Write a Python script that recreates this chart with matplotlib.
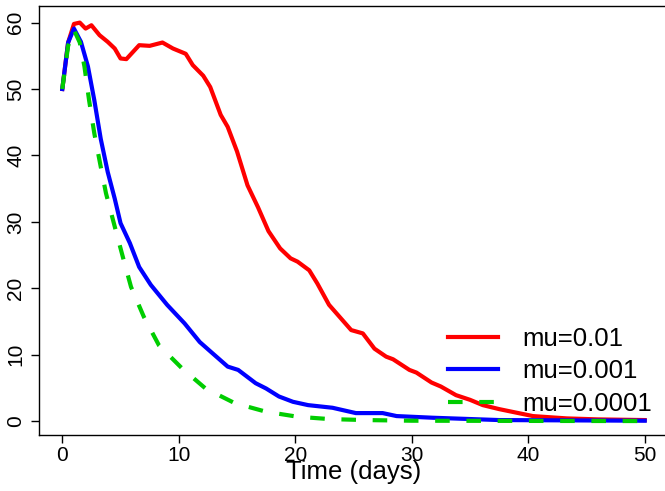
import matplotlib
matplotlib.use('Agg')
import matplotlib.pyplot as plt

# values
t_red = [0, 0.5, 1.0, 1.5, 2.0, 2.5, 3.2, 3.9, 4.5, 5.0, 5.5, 6.6, 7.5, 8.6, 9.5,
         10.6, 11.2, 12.1, 12.7, 13.6, 14.2, 15.0, 15.9, 16.8, 17.7, 18.7, 19.6,
         20.2, 21.2, 21.9, 22.9, 23.8, 24.8, 25.8, 26.8, 27.8, 28.4, 29.8, 30.4,
         31.7, 32.5, 33.8, 35.0, 36.1, 37.5, 40.4, 43.3, 46.0, 50.0]
mu_01 = [50, 57, 59.8, 60.0, 59.1, 59.6, 58.1, 57.1, 56.1, 54.6, 54.5, 56.6, 56.5,
         57.0, 56.1, 55.3, 53.6, 52.0, 50.3, 46.1, 44.3, 40.6, 35.5, 32.2, 28.6,
         26.0, 24.5, 24.0, 22.7, 20.7, 17.5, 15.7, 13.7, 13.2, 10.9, 9.7, 9.3,
         7.7, 7.3, 5.8, 5.2, 3.9, 3.2, 2.4, 1.8, 0.75, 0.4, 0.25, 0.15]

t_blue = [0, 0.5, 1.0, 1.6, 2.2, 2.75, 3.3, 3.9, 4.5, 5.0, 5.8, 6.6, 7.6, 9.0,
          10.5, 11.8, 12.9, 14.2, 15.1, 16.6, 17.5, 18.6, 19.8, 21.1, 23.2, 25.2,
          27.5, 28.7, 31.8, 37.5, 50.0]
mu_001 = [50, 57, 59.1, 57.1, 53.4, 48.3, 42.5, 37.5, 33.5, 29.8, 26.8, 23.2, 20.5,
          17.5, 14.7, 11.9, 10.2, 8.2, 7.7, 5.7, 4.9, 3.7, 2.9, 2.4, 2.0, 1.2,
          1.2, 0.75, 0.5, 0.15, 0.05]

t_green = [0, 0.5, 1.0, 1.5, 1.9, 2.3, 2.75, 3.3, 3.75, 4.5, 5.2, 5.9, 7.0, 8.3,
           10.3, 12.3, 14.8, 17.5, 20.2, 22.9, 26.0, 30.0, 40.0, 50.0]
mu_0001 = [50, 56.5, 58.9, 57.0, 53.4, 48.3, 43.3, 38.3, 34.3, 29.3, 24.7, 20.2,
           15.7, 11.4, 7.9, 4.9, 2.7, 1.4, 0.65, 0.3, 0.15, 0.05, 0.02, 0.0]

labels = ['mu=0.01', 'mu=0.001', 'mu=0.0001']
x_ticks = [0, 10, 20, 30, 40, 50]
y_ticks = [0, 10, 20, 30, 40, 50, 60]

plt.rcParams['font.family'] = ['Liberation Sans', 'DejaVu Sans']

fig = plt.figure(figsize=(6.65, 4.91), dpi=100)
# right edge of the plot box lies just past the image edge, as in the reference
ax = fig.add_axes([39 / 665, 56 / 491, 629 / 665, 429 / 491])

ax.plot(t_red, mu_01, color='#ff0000', lw=3, label=labels[0])
ax.plot(t_blue, mu_001, color='#0000ff', lw=3, label=labels[1])
ax.plot(t_green, mu_0001, color='#00cd00', lw=3, ls=(0, (3.5, 4)), label=labels[2])

ax.set_xlim(-2, 52)
ax.set_ylim(-2.1, 62.5)
ax.set_xticks(x_ticks)
ax.set_yticks(y_ticks)
ax.tick_params(direction='out', length=6, width=1, labelsize=15, pad=4)
ax.tick_params(axis='x', pad=2)
for lab in ax.get_yticklabels():
    lab.set_rotation(90)
    lab.set_va('center')
for sp in ax.spines.values():
    sp.set_linewidth(1)
    sp.set_color('black')
ax.spines['right'].set_visible(False)

ax.set_xlabel('Time (days)', fontsize=18.5)
ax.xaxis.set_label_coords(0.5, -0.1035)
ax.xaxis.label.set_va('baseline')

ax.legend(loc='upper left', bbox_to_anchor=(0.634, 0.2758),
          frameon=False, fontsize=18.5, handlelength=1.95, handletextpad=0.93,
          labelspacing=0.33, borderaxespad=0)

fig.savefig('out.png', dpi=100)
